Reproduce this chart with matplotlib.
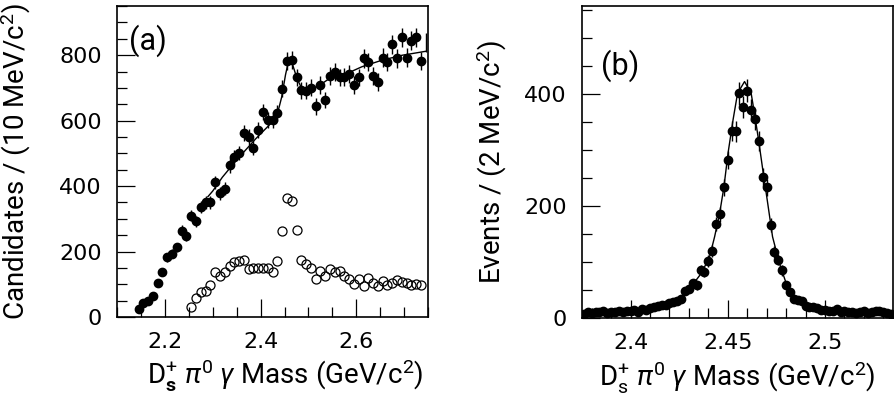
import numpy as np
import matplotlib
matplotlib.use("Agg")
import matplotlib.pyplot as plt
from matplotlib.ticker import MultipleLocator, FormatStrFormatter

plt.rcParams['font.family'] = ['DejaVu Sans']
plt.rcParams['mathtext.fontset'] = 'custom'
plt.rcParams['mathtext.rm'] = 'Roboto'
plt.rcParams['mathtext.it'] = 'Roboto:italic'
plt.rcParams['mathtext.bf'] = 'Roboto:bold'

LABEL_FONT = ['Roboto', 'DejaVu Sans']

# ---- panel (a): Ds pi0 gamma mass, 10 MeV bins ----
mass_a = np.round(np.arange(2.145, 2.7451, 0.01), 3)
cand_a = [24, 44, 49, 64, 105, 136, 182, 193, 213, 264,
          248, 310, 292, 335, 350, 350, 412, 378, 392, 463,
          489, 501, 562, 550, 517, 571, 627, 601, 603, 624,
          698, 783, 785, 732, 693, 691, 701, 644, 709, 663,
          736, 749, 732, 734, 742, 709, 732, 790, 780, 736,
          719, 793, 780, 834, 790, 855, 793, 844, 855, 782,
          840]

mass_open = np.round(np.arange(2.255, 2.7351, 0.01), 3)
cand_open = [31, 59, 75, 80, 98, 139, 126, 139, 156, 167,
             170, 175, 148, 149, 149, 149, 149, 139, 172, 264,
             364, 354, 266, 174, 162, 149, 116, 141, 126, 146,
             139, 141, 126, 116, 102, 116, 95, 119, 105, 95,
             110, 98, 105, 112, 108, 105, 98, 101, 98]

fit_a_x = [2.29, 2.30, 2.32, 2.35, 2.39, 2.417, 2.435, 2.444, 2.452, 2.459,
           2.466, 2.476, 2.487, 2.50, 2.52, 2.543, 2.577, 2.612, 2.654, 2.696, 2.745]
fit_a_y = [368, 385, 427, 480, 545, 585, 620, 672, 740, 787,
           775, 729, 695, 693, 705, 728, 742, 765, 785, 800, 812]

# ---- panel (b): signal region, 2 MeV bins ----
mass_b = np.round(np.arange(2.376, 2.5341, 0.002), 3)
events_b = [8, 10, 9, 11, 10, 12, 9, 11, 10, 12,
            10, 13, 12, 15, 11, 16, 14, 18, 20, 21,
            23, 24, 26, 28, 30, 34, 48, 52, 62, 58,
            86, 82, 102, 120, 168, 185, 233, 282, 334, 333,
            401, 377, 406, 371, 355, 316, 252, 233, 166, 118,
            104, 85, 58, 46, 34, 33, 31, 22, 20, 19,
            17, 14, 15, 12, 13, 16, 11, 12, 10, 11,
            9, 10, 12, 9, 11, 12, 13, 10, 9, 8]

fit_b_x = [2.376, 2.39, 2.40, 2.41, 2.42, 2.425, 2.4312, 2.4364, 2.4406, 2.4432,
           2.4458, 2.448, 2.4501, 2.4527, 2.455, 2.4586, 2.462, 2.4637, 2.4658,
           2.468, 2.4705, 2.473, 2.4765, 2.48, 2.4834, 2.49, 2.50, 2.52, 2.534]
fit_b_y = [9, 11, 13, 17, 24, 32, 56, 80, 109, 145,
           187, 234, 294, 354, 401, 422, 401, 365, 318,
           264, 205, 145, 98, 62, 38, 22, 15, 11, 9]


def style_axis(ax):
    for sp in ax.spines.values():
        sp.set_linewidth(1.2)
    ax.tick_params(which='both', direction='in', top=False, right=False,
                   labelsize=16, width=0.9, pad=11)
    ax.tick_params(which='major', length=13)
    ax.tick_params(which='minor', length=7)


fig = plt.figure(figsize=(8.94, 3.96), dpi=100)
ax1 = fig.add_axes([0.1309, 0.1995, 0.348, 0.785])
ax2 = fig.add_axes([0.651, 0.197, 0.348, 0.788])

# (a)
ax1.errorbar(mass_a[:-1], cand_a[:-1], yerr=np.sqrt(cand_a[:-1]), fmt='o', color='black',
             ms=6, elinewidth=1, capsize=0)
ax1.errorbar(mass_a[-1:], cand_a[-1:], yerr=np.sqrt(cand_a[-1:]), fmt='none',
             ecolor='black', elinewidth=1, capsize=0)
ax1.plot(mass_open, cand_open, 'o', mfc='none', mec='black', ms=6.5, mew=0.9)
ax1.plot(fit_a_x, fit_a_y, color='black', lw=1)
ax1.set_xlim(2.1, 2.75)
ax1.set_ylim(0, 950)
ax1.xaxis.set_major_locator(MultipleLocator(0.2))
ax1.xaxis.set_minor_locator(MultipleLocator(0.05))
ax1.yaxis.set_major_locator(MultipleLocator(200))
ax1.yaxis.set_minor_locator(MultipleLocator(50))
ax1.xaxis.set_major_formatter(FormatStrFormatter('%g'))
style_axis(ax1)
ax1.set_ylabel(r'Candidates / (10 MeV/c$^2$)', fontsize=20, family=LABEL_FONT)
ax1.set_xlabel(r'D$_{\mathbf{s}}^{+}$ $\pi^0$ $\gamma$ Mass (GeV/c$^2$)', fontsize=20,
               family=LABEL_FONT)
ax1.yaxis.set_label_coords(-0.27, 0.5)
ax1.xaxis.set_label_coords(0.54, -0.13)
ax1.text(0.04, 0.86, '(a)', transform=ax1.transAxes, fontsize=22, family=LABEL_FONT)

# (b)
ax2.errorbar(mass_b, events_b, yerr=np.sqrt(events_b), fmt='o', color='black',
             ms=6, elinewidth=1, capsize=0)
ax2.plot(fit_b_x, fit_b_y, color='black', lw=1)
ax2.set_xlim(2.375, 2.535)
ax2.set_ylim(0, 557)
ax2.xaxis.set_major_locator(MultipleLocator(0.05))
ax2.xaxis.set_minor_locator(MultipleLocator(0.01))
ax2.yaxis.set_major_locator(MultipleLocator(200))
ax2.yaxis.set_minor_locator(MultipleLocator(50))
ax2.xaxis.set_major_formatter(FormatStrFormatter('%g'))
style_axis(ax2)
ax2.set_ylabel(r'Events / (2 MeV/c$^2$)', fontsize=20, family=LABEL_FONT)
ax2.set_xlabel(r'D$_{\mathrm{s}}^{+}$ $\pi^0$ $\gamma$ Mass (GeV/c$^2$)', fontsize=20,
               family=LABEL_FONT)
ax2.yaxis.set_label_coords(-0.235, 0.5)
ax2.xaxis.set_label_coords(0.5, -0.13)
ax2.text(0.06, 0.78, '(b)', transform=ax2.transAxes, fontsize=22, family=LABEL_FONT)

fig.savefig('out.png', dpi=100)
